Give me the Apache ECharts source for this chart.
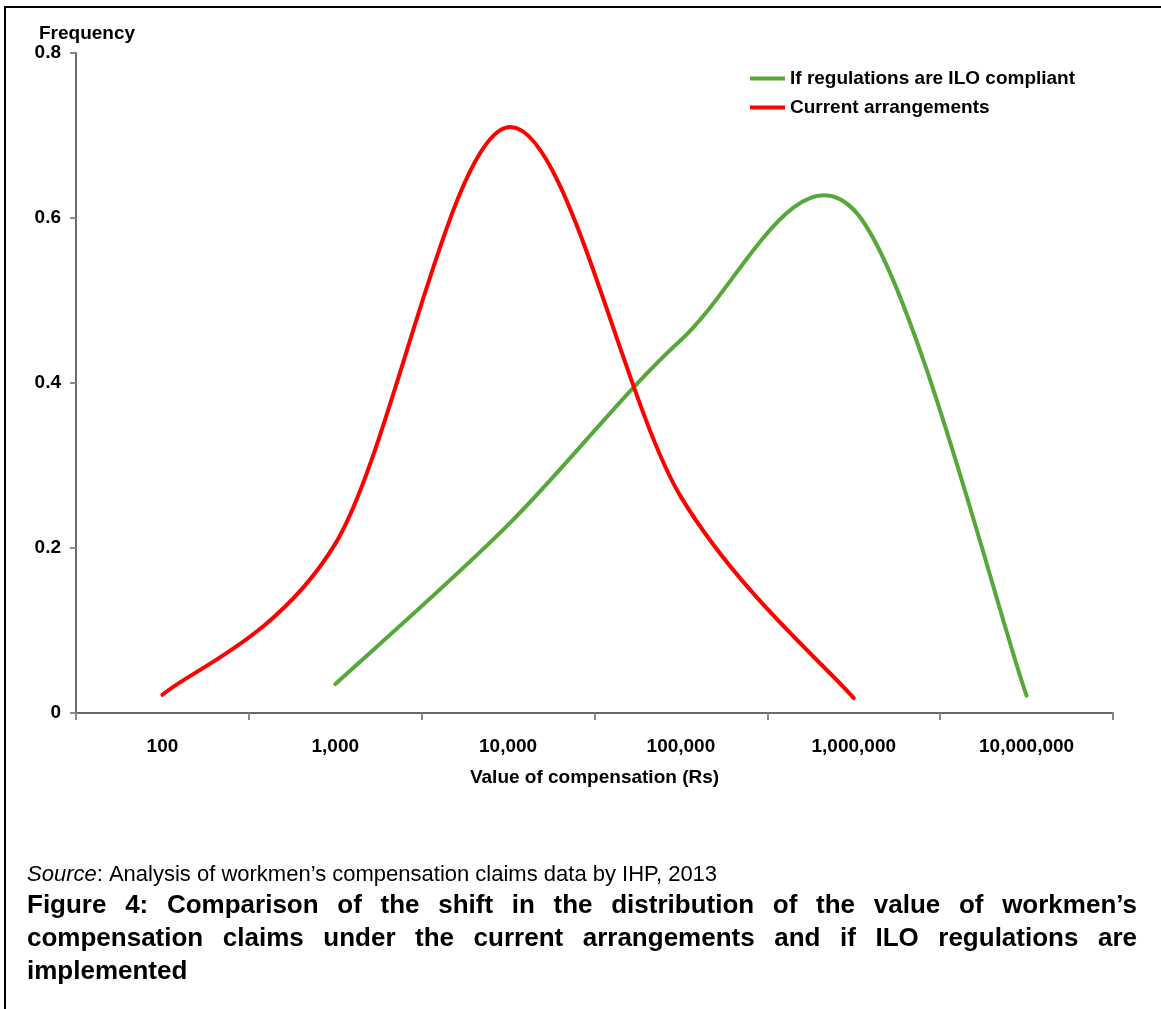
<!DOCTYPE html>
<html>
<head>
<meta charset="utf-8">
<script src="https://cdn.jsdelivr.net/npm/echarts@6/dist/echarts.min.js"></script>
<style>
html,body{margin:0;padding:0;background:#fff;}
#chart{width:1161px;height:1009px;}
</style>
</head>
<body>
<div id="chart"></div>
<script>
var categories = ['100', '1,000', '10,000', '100,000', '1,000,000', '10,000,000'];
var iloCompliant = [null, 0.035, 0.228, 0.452, 0.61, 0.021];
var currentArrangements = [0.022, 0.205, 0.71, 0.262, 0.018, null];
var seriesNames = ['If regulations are ILO compliant', 'Current arrangements'];
var seriesColors = ['#56a83a', '#ff0000'];
var yTicks = [0, 0.2, 0.4, 0.6, 0.8];
var captionLines = [
  'Figure 4: Comparison of the shift in the distribution of the value of workmen\u2019s',
  'compensation claims under the current arrangements and if ILO regulations are',
  'implemented'
];

var FONT = '"Liberation Sans", Arial, sans-serif';
var chart = echarts.init(document.getElementById('chart'), null, {renderer: 'canvas'});

// [categoryIndex, value] pairs of the defined points of each series
function toPairs(values) {
  var out = [];
  values.forEach(function (v, i) { if (v !== null) out.push([i, v]); });
  return out;
}
var seriesPairs = [toPairs(iloCompliant), toPairs(currentArrangements)];

// Excel-like smoothed line: cubic Bezier segments (Catmull-Rom tangents) through the data coords
function makeRenderItem(si) {
  return function (params, api) {
    var pairs = seriesPairs[si];
    var c = pairs.map(function (p) { return api.coord(p); });
    var i = params.dataIndex;
    if (i >= c.length - 1) return null;
    var p0 = c[i - 1] || c[i], p1 = c[i], p2 = c[i + 1], p3 = c[i + 2] || c[i + 1];
    return {
      type: 'bezierCurve',
      shape: {
        x1: p1[0], y1: p1[1], x2: p2[0], y2: p2[1],
        cpx1: p1[0] + (p2[0] - p0[0]) / 6, cpy1: p1[1] + (p2[1] - p0[1]) / 6,
        cpx2: p2[0] - (p3[0] - p1[0]) / 6, cpy2: p2[1] - (p3[1] - p1[1]) / 6
      },
      style: {stroke: seriesColors[si], lineWidth: 4, fill: null, lineCap: 'round'}
    };
  };
}

// justified caption layout (word positions computed from measured widths)
var capSize = 26;
var mctx = document.createElement('canvas').getContext('2d');
mctx.font = 'bold ' + capSize + 'px ' + FONT;
var capLeft = 27, capRight = 1137, capY = [907, 940, 973];
var captionGraphics = [];
captionLines.forEach(function (line, li) {
  var words = line.split(' ');
  var widths = words.map(function (w) { return mctx.measureText(w).width; });
  var total = widths.reduce(function (a, b) { return a + b; }, 0);
  var justify = li < captionLines.length - 1;
  var gap = justify ? (capRight - capLeft - total) / (words.length - 1) : mctx.measureText(' ').width;
  var x = capLeft;
  words.forEach(function (w, i) {
    captionGraphics.push({
      type: 'text', left: x, top: capY[li] - capSize / 2 - 1,
      style: {text: w, font: 'bold ' + capSize + 'px ' + FONT, fill: '#000'}
    });
    x += widths[i] + gap;
  });
});

var option = {
  animation: false,
  backgroundColor: '#fff',
  grid: {left: 76, right: 48, top: 53, bottom: 296},
  legend: {
    orient: 'vertical', left: 745, top: 64, itemWidth: 35, itemHeight: 4, itemGap: 10,
    selectedMode: false,
    textStyle: {fontFamily: FONT, fontWeight: 'bold', fontSize: 19, color: '#000', lineHeight: 19},
    data: [{name: seriesNames[0], icon: 'rect'}, {name: seriesNames[1], icon: 'rect'}]
  },
  xAxis: {
    type: 'category', data: categories, boundaryGap: true,
    name: 'Value of compensation (Rs)', nameLocation: 'middle', nameGap: 55,
    nameTextStyle: {fontFamily: FONT, fontWeight: 'bold', fontSize: 19, color: '#000'},
    axisLine: {show: true, lineStyle: {color: '#6a6a6a', width: 2}},
    axisTick: {show: true, interval: 0, length: 7, lineStyle: {color: '#8a8a8a', width: 2}},
    axisLabel: {interval: 0, margin: 24, fontFamily: FONT, fontWeight: 'bold', fontSize: 19, color: '#000'},
    splitLine: {show: false}
  },
  yAxis: {
    type: 'value', min: 0, max: 0.8, interval: 0.2,
    name: 'Frequency', nameLocation: 'end', nameGap: 10,
    nameTextStyle: {fontFamily: FONT, fontWeight: 'bold', fontSize: 19, color: '#000', align: 'center', padding: [0, 0, 0, 22]},
    axisLine: {show: true, lineStyle: {color: '#6a6a6a', width: 2}},
    axisTick: {show: true, length: 6, lineStyle: {color: '#8a8a8a', width: 2}},
    axisLabel: {margin: 15, fontFamily: FONT, fontWeight: 'bold', fontSize: 19, color: '#000',
      formatter: function (v) { var r = Math.round(v * 10) / 10; return yTicks.indexOf(r) >= 0 ? String(r) : ''; }},
    splitLine: {show: false}
  },
  series: [
    {name: seriesNames[0], type: 'custom', data: seriesPairs[0], encode: {x: 0, y: 1},
      renderItem: makeRenderItem(0), itemStyle: {color: seriesColors[0]}, clip: false},
    {name: seriesNames[1], type: 'custom', data: seriesPairs[1], encode: {x: 0, y: 1},
      renderItem: makeRenderItem(1), itemStyle: {color: seriesColors[1]}, clip: false}
  ],
  graphic: [
    {type: 'line', shape: {x1: 5, y1: 7, x2: 1161, y2: 7}, style: {stroke: '#000', lineWidth: 2}},
    {type: 'line', shape: {x1: 5, y1: 6, x2: 5, y2: 1009}, style: {stroke: '#000', lineWidth: 2}},
    {type: 'text', left: 27, top: 864,
      style: {
        text: '{i|Source}: Analysis of workmen\u2019s compensation claims data by IHP, 2013',
        font: '22px ' + FONT, fill: '#000',
        rich: {i: {fontStyle: 'italic', fontSize: 22, fontFamily: FONT, fill: '#000'}}
      }}
  ].concat(captionGraphics)
};
chart.setOption(option);
</script>
</body>
</html>
